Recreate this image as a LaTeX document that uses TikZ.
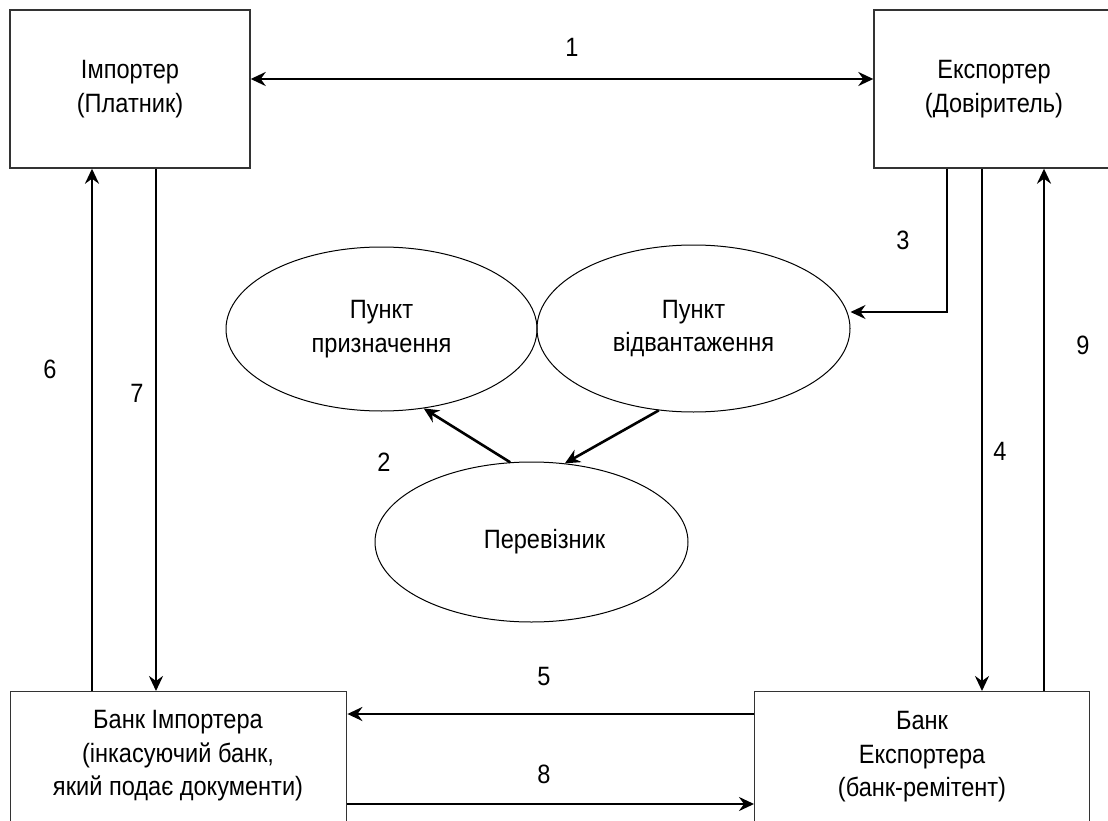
\documentclass[tikz,border=0pt]{standalone}
\usepackage{fontspec}
\setmainfont{Liberation Sans}[FakeStretch=0.89]
\usetikzlibrary{arrows.meta,shapes.geometric}
\begin{document}
\begin{tikzpicture}[x=1pt,y=-1pt,
  every node/.style={font=\fontsize{26.5}{33.5}\selectfont, inner sep=0pt},
  box/.style={draw=black!80, line width=1.4pt, rectangle, align=center},
  oval/.style={draw=black, line width=1pt, ellipse, align=center},
  tip/.style={-{Stealth[length=15pt,width=14pt,inset=5pt]}},
  flow/.style={line width=2.6pt, tip},
  both/.style={line width=2.6pt, {Stealth[length=15pt,width=14pt,inset=5pt]}-{Stealth[length=15pt,width=14pt,inset=5pt]}},
  num/.style={},
]
\clip (0,0) rectangle (1108,821);
\useasboundingbox (0,0) rectangle (1108,821);

% parties and banks
\node[box, minimum width=240pt, minimum height=158pt] (imp) at (130,89) {Імпортер\\(Платник)};
\node[box, minimum width=240pt, minimum height=158pt] (exp) at (994,89) {Експортер\\(Довіритель)};
\node[box, minimum width=336pt, minimum height=150pt, anchor=north west] (bimp) at (10,691) {};
\node[align=center] (bimpT) at (178,756) {Банк Імпортера\\(інкасуючий банк,\\який подає документи)};
\node[box, minimum width=335pt, minimum height=150pt, anchor=north west] (bexp) at (754,691) {};
\node[align=center] (bexpT) at (922,757) {Банк\\Експортера\\(банк-ремітент)};

% transport points
\node[oval, minimum width=311pt, minimum height=164pt] (dest) at (381.5,329) {Пункт\\призначення};
\node[oval, minimum width=313pt, minimum height=167pt] (ship) at (693.5,328.5) {Пункт\\відвантаження};
\node[oval, minimum width=313pt, minimum height=160pt] (perev) at (531.5,542) {\hspace*{26pt}Перевізник};

% helper coordinates for the straight runs
\coordinate (y1) at (0,79);
\coordinate (k3) at (947,312);
\coordinate (x6) at (92,0);
\coordinate (x7) at (156,0);
\coordinate (x4) at (982,0);
\coordinate (x9) at (1044,0);
\coordinate (y5) at (0,714);
\coordinate (y8) at (0,804);

% connectors
\draw[both] (imp.east |- y1) -- (exp.west |- y1);
\draw[line width=1.8pt, tip] (exp.south -| k3) |- (ship.east |- k3);
\draw[flow] (perev.105) -- (dest.-62);
\draw[flow] (ship.-113) -- (perev.67);
\draw[flow] (exp.south -| x4) -- (bexp.north -| x4);
\draw[flow] (bexp.west |- y5) -- (bimp.east |- y5);
\draw[flow] (bimp.north -| x6) -- (imp.south -| x6);
\draw[flow] (imp.south -| x7) -- (bimp.north -| x7);
\draw[flow] (bimp.east |- y8) -- (bexp.west |- y8);
\draw[flow] (bexp.north -| x9) -- (exp.south -| x9);

% step numbers
\node[num] (n1) at (572,47) {1};
\node[num] (n2) at (384,462) {2};
\node[num] (n3) at (903,240) {3};
\node[num] (n4) at (1000,451) {4};
\node[num] (n5) at (544,677) {5};
\node[num] (n6) at (50,369) {6};
\node[num] (n7) at (137,393) {7};
\node[num] (n8) at (544,774) {8};
\node[num] (n9) at (1083,345) {9};
\end{tikzpicture}
\end{document}
